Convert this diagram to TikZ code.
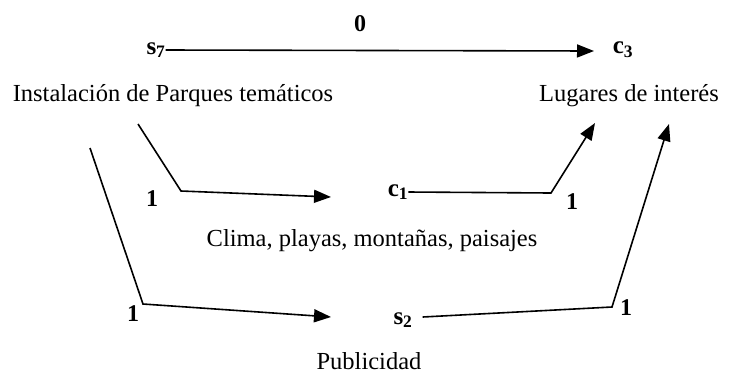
\documentclass[tikz,border=0pt]{standalone}
\usepackage{fontspec}
\setmainfont{Liberation Serif}
\usepackage{tikz}
\usetikzlibrary{arrows.meta,positioning}

\begin{document}
\begin{tikzpicture}[x=1pt, y=-1pt]
	\tikzstyle{Var}		= [inner sep=0pt, font=\fontsize{25}{28}\selectfont\bfseries]
	\tikzstyle{Name}	= [inner sep=0pt, font=\fontsize{24.5}{28}\selectfont]
	\tikzstyle{Weight}	= [inner sep=0pt, font=\fontsize{24}{28}\selectfont\bfseries]
	\tikzstyle{Link}	= [line width=1.6pt, -{Triangle[length=17pt,width=13pt]}]

	\useasboundingbox (0,0) rectangle (731,376);

	% variables
	\node (s7) at (156,50) [Var] {s\textsubscript{7}};
	\node (c3) at (623,50) [Var] {c\textsubscript{3}};
	\node (c1) at (398,192) [Var] {c\textsubscript{1}};
	\node (s2) at (403,320) [Var] {s\textsubscript{2}};

	% names
	\node (n7) at (173,96) [Name] {Instalación de Parques temáticos};
	\node (n3) at (629,96) [Name] {Lugares de interés};
	\node (n1) at (372,241) [Name] {Clima, playas, montañas, paisajes};
	\node (n2) at (369,361) [Name] {Publicidad};

	% weights
	\node (w0) at (360,24) [Weight] {0};
	\node (w1) at (152,199) [Weight] {1};
	\node (w2) at (572,202) [Weight] {1};
	\node (w3) at (133,314) [Weight] {1};
	\node (w4) at (626,308) [Weight] {1};

	% corners and free ends
	\coordinate (a1) at (138,124);
	\coordinate (k1) at (181,191);
	\coordinate (t1) at (331,197);
	\coordinate (k2) at (551,193);
	\coordinate (t2) at (595,123);
	\coordinate (a3) at (90,148);
	\coordinate (k3) at (143,304);
	\coordinate (t3) at (331,317);
	\coordinate (k4) at (612,307);
	\coordinate (t4) at (669,124);

	\draw [Link] (s7.east) -- (594,51) coordinate (t0);
	\draw [Link] (a1) -- (k1) -- (t1);
	\draw [Link] (c1.east) -- (k2) -- (t2);
	\draw [Link] (a3) -- (k3) -- (t3);
	\draw [Link] (s2.east) ++(10,-3) coordinate (b4) -- (k4) -- (t4);
\end{tikzpicture}
\end{document}
